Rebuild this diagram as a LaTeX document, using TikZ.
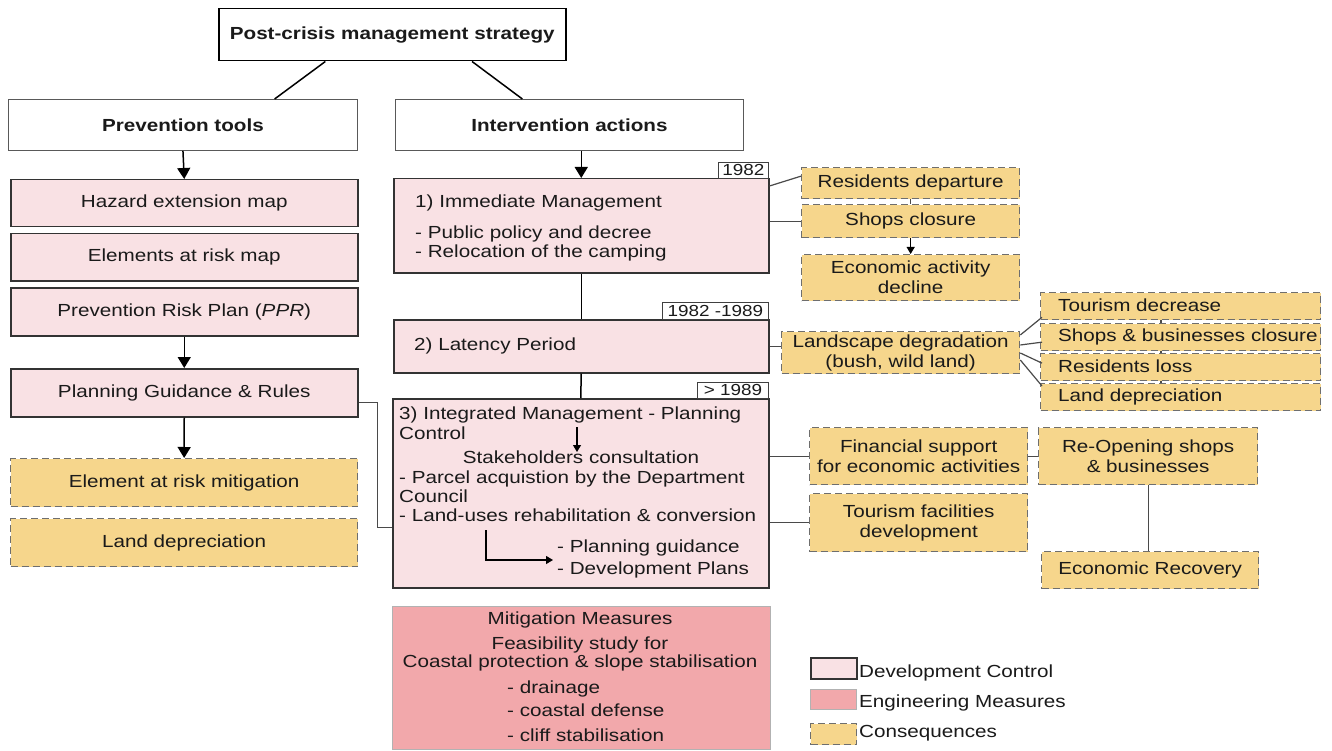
\documentclass[tikz,border=0pt]{standalone}
\usepackage{fontspec}
\setmainfont{Liberation Sans}[FakeStretch=1.18]
\usetikzlibrary{arrows.meta,calc}
\definecolor{devpink}{HTML}{F9E1E4}
\definecolor{engpink}{HTML}{F2A8AB}
\definecolor{consyel}{HTML}{F6D68C}
\definecolor{dashgray}{HTML}{6E6E6E}
\definecolor{linegray}{HTML}{4A4A4A}
\definecolor{txt}{HTML}{1A1A1A}
\newcommand\fs{\fontsize{17.5}{20}\selectfont}
\newcommand\fsy{\fontsize{16}{18}\selectfont}
\newcommand\bx[7]{\node[#1,anchor=north west,minimum width={(#5)-(#3)},minimum height={(#6)-(#4)}] (#2) at (#3,#4) {#7};}
\begin{document}
\begin{tikzpicture}[x=1pt,y=-1pt,
  base/.style={inner sep=0pt,align=center,font=\fs,text=txt},
  topbox/.style={base,draw=black,line width=1.5pt,fill=white,font=\fs\bfseries},
  headbox/.style={base,draw=gray!70!black,line width=0.9pt,fill=white,font=\fs\bfseries},
  devbox/.style={base,draw=black!80,line width=1.5pt,fill=devpink},
  engbox/.style={base,draw=gray!60,line width=0.7pt,fill=engpink},
  consbox/.style={base,draw=dashgray,line width=1.3pt,dash pattern=on 7pt off 4pt,fill=consyel},
  yearbox/.style={base,draw=black!75,line width=0.9pt,fill=white,font=\fsy},
  tx/.style={inner sep=0pt,font=\fs,text=txt},
  conn/.style={draw=linegray,line width=1.2pt},
  blk/.style={draw=black,line width=1.5pt},
  arr/.style={draw=black,line width=1.5pt,-{Triangle[width=13pt,length=11pt]}},
  sarr/.style={draw=black,line width=1.1pt,-{Triangle[width=8pt,length=7pt]}}]
\useasboundingbox (0,0) rectangle (1332,751);
\fill[white] (0,0) rectangle (1332,751);

% top
\bx{topbox}{top}{218}{8}{565}{60}{Post-crisis management strategy}
\bx{headbox}{prev}{8}{99}{357}{150}{Prevention tools}
\bx{headbox}{int}{395}{99}{743}{150}{Intervention actions}

% left column
\bx{devbox}{haz}{10}{179}{357}{226}{Hazard extension map}
\bx{devbox}{ear}{10}{233}{357}{280}{Elements at risk map}
\bx{devbox}{ppr}{10}{287}{357}{335}{Prevention Risk Plan (\textit{PPR})}
\bx{devbox}{pg}{10}{368}{357}{416}{Planning Guidance \& Rules}
\bx{consbox}{erm}{10}{458}{357}{506}{Element at risk mitigation}
\bx{consbox}{ldl}{10}{518}{357}{566}{Land depreciation}

% middle column
\bx{devbox}{b1}{393}{178}{768}{272}{}
\bx{yearbox}{y1}{718}{162}{768}{178}{1982}
\bx{devbox}{b2}{393}{319}{768}{372}{}
\bx{yearbox}{y2}{662}{302}{768}{319}{1982 -1989}
\bx{devbox}{b3}{392}{398}{768}{587}{}
\bx{yearbox}{y3}{697}{382}{768}{398}{> 1989}

\node[tx,anchor=base west] (t1a) at (415,208) {1) Immediate Management};
\node[tx,anchor=base west] (t1b) at (415,239) {- Public policy and decree};
\node[tx,anchor=base west] (t1c) at (415,258) {- Relocation of the camping};
\node[tx,anchor=base west] (t2) at (414,350) {2) Latency Period};
\node[tx,anchor=base west] (t3a) at (399,419) {3) Integrated Management - Planning};
\node[tx,anchor=base west] (t3b) at (399,439) {Control};
\node[tx,anchor=base] (t3c) at (581,463) {Stakeholders consultation};
\node[tx,anchor=base west] (t3d) at (399,483) {- Parcel acquistion by the Department};
\node[tx,anchor=base west] (t3e) at (399,502) {Council};
\node[tx,anchor=base west] (t3f) at (399,521) {- Land-uses rehabilitation \& conversion};
\node[tx,anchor=base west] (t3g) at (557,552) {- Planning guidance};
\node[tx,anchor=base west] (t3h) at (557,574) {- Development Plans};
\coordinate (a3s) at (577,427);
\coordinate (a3e) at (577,452);
\coordinate (l3s) at (486,530);
\coordinate (l3e) at (553,560);

% mitigation
\bx{engbox}{mit}{392}{606}{770}{749}{}
\node[tx,anchor=base] (m1) at (580,624) {Mitigation Measures};
\node[tx,anchor=base] (m2) at (580,649) {Feasibility study for};
\node[tx,anchor=base] (m3) at (580,667) {Coastal protection \& slope stabilisation};
\node[tx,anchor=base west] (m4) at (507,693) {- drainage};
\node[tx,anchor=base west] (m5) at (507,716) {- coastal defense};
\node[tx,anchor=base west] (m6) at (507,741) {- cliff stabilisation};

% right consequences
\bx{consbox}{rd}{801}{167}{1019}{198}{Residents departure}
\bx{consbox}{sc}{801}{204}{1019}{237}{Shops closure}
\bx{consbox}{ead}{801}{254}{1019}{300}{Economic activity\\decline}
\bx{consbox}{lg}{781}{331}{1019}{373}{Landscape degradation\\(bush, wild land)}
\bx{consbox}{td}{1040}{292}{1320}{319}{}
\bx{consbox}{sb}{1040}{323}{1320}{350}{}
\bx{consbox}{rl}{1040}{353}{1320}{380}{}
\bx{consbox}{ld}{1040}{383}{1320}{410}{}
\node[tx,anchor=west] (tdt) at (1058,305.5) {Tourism decrease};
\node[tx,anchor=west] (sbt) at (1058,336.5) {Shops \& businesses closure};
\node[tx,anchor=west] (rlt) at (1058,366.5) {Residents loss};
\node[tx,anchor=west] (ldt) at (1058,396.5) {Land depreciation};
\bx{consbox}{fsp}{809}{427}{1027}{484}{Financial support\\for economic activities}
\bx{consbox}{tfd}{809}{493}{1027}{551}{Tourism facilities\\development}
\bx{consbox}{ros}{1038}{427}{1257}{484}{Re-Opening shops\\\& businesses}
\bx{consbox}{er}{1041}{551}{1258}{588}{Economic Recovery}

% legend
\bx{devbox}{lg1}{810}{657}{856}{678}{}
\bx{engbox}{lg2}{810}{689}{856}{709}{}
\bx{consbox}{lg3}{810}{723}{856}{744}{}
\node[tx,anchor=base west] (lt1) at (859,677) {Development Control};
\node[tx,anchor=base west] (lt2) at (859,707) {Engineering Measures};
\node[tx,anchor=base west] (lt3) at (859,737) {Consequences};

% connectors
\draw[blk] ($(top.south west)!0.308!(top.south east)$) -- ($(prev.north west)!0.762!(prev.north east)$);
\draw[blk] ($(top.south west)!0.729!(top.south east)$) -- ($(int.north west)!0.365!(int.north east)$);
\draw[arr] (prev.south) -- (haz.north);
\draw[arr] (ppr.south) -- (pg.north);
\draw[arr] (pg.south) -- (erm.north);
\draw[arr] (int.south -| b1.north) -- (b1.north);
\draw[blk] (b1.south) -- (b2.north);
\draw[blk] (b2.south) -- (b3.north);
\draw[conn] ($(pg.east)+(0,9.5)$) -- ($(pg.east)+(19,9.5)$) |- ($(b3.west)+(0,34.5)$);
\draw[sarr] (a3s) -- (a3e);
\draw[sarr] (l3s) |- (l3e);
\draw[conn] ($(b1.north east)+(0,8)$) -- ($(rd.west)+(0,-7)$);
\draw[conn] (sc.west -| b1.east) -- (sc.west);
\draw[conn] (rd.south) -- (sc.north);
\draw[sarr] (sc.south) -- (ead.north);
\draw[conn] (b2.east) -- (b2.east -| lg.west);
\draw[conn] ($(lg.north east)+(0,4)$) -- ($(td.south west)+(2,-3)$);
\draw[conn] ($(lg.north east)+(0,14)$) -- ($(sb.west)+(2,5)$);
\draw[conn] ($(lg.north east)+(0,22)$) -- ($(rl.west)+(2,-4)$);
\draw[conn] ($(lg.north east)+(0,29)$) -- ($(ld.north west)+(2,3)$);
\draw[conn] ($(td.south west)!0.43!(td.south east)$) -- ($(sb.north west)!0.43!(sb.north east)$);
\draw[conn] ($(sb.south west)!0.43!(sb.south east)$) -- ($(rl.north west)!0.43!(rl.north east)$);
\draw[conn] ($(rl.south west)!0.43!(rl.south east)$) -- ($(ld.north west)!0.43!(ld.north east)$);
\draw[conn] (fsp.west -| b3.east) -- (fsp.west);
\draw[conn] (tfd.west -| b3.east) -- (tfd.west);
\draw[conn] (fsp.east) -- (ros.west);
\draw[conn] (ros.south) -- (ros.south |- er.north);
\end{tikzpicture}
\end{document}
